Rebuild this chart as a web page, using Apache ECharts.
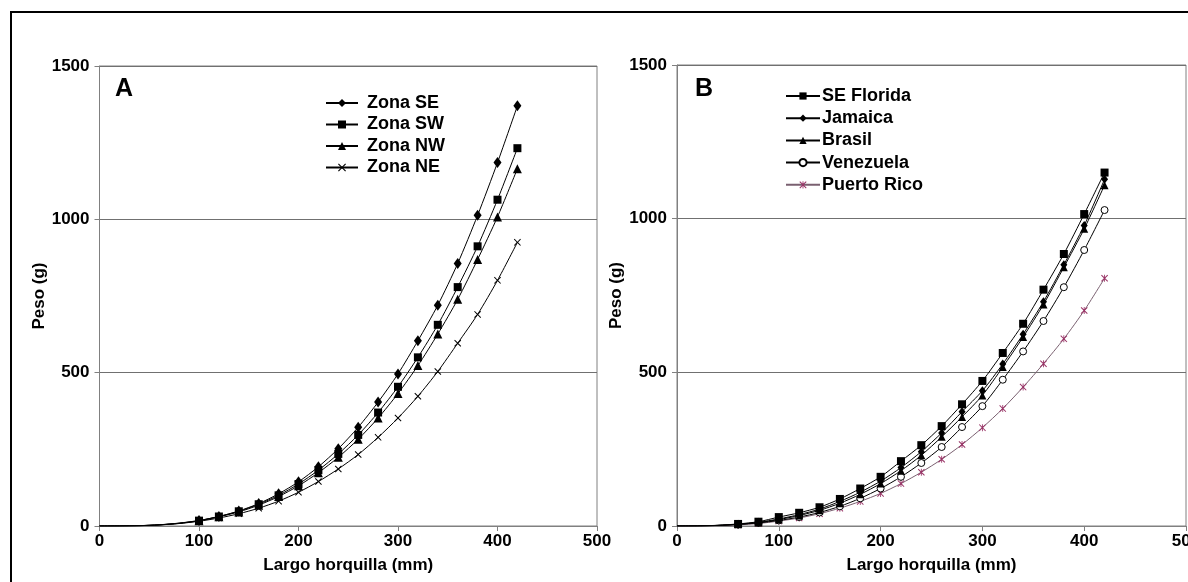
<!DOCTYPE html>
<html>
<head>
<meta charset="utf-8">
<script src="https://cdn.jsdelivr.net/npm/echarts@6/dist/echarts.min.js"></script>
<style>
html,body{margin:0;padding:0;background:#fff;}
#c{width:1188px;height:582px;}
</style>
</head>
<body>
<div id="c"></div>
<script>
// ---- data ----
const xVals = [0,20,40,60,80,100,120,140,160,180,200,220,240,260,280,300,320,340,360,380,400,420];
const xTicks = [0,100,200,300,400,500];
const yTicks = [0,500,1000,1500];

// Panel A (zones)
const namesA = ['Zona SE','Zona SW','Zona NW','Zona NE'];
const zonaSE = [0,0.2,1.2,4,9.5,18,31,49,73,105,144,193,252,322,404,496,604,720,856,1013,1185,1370];
const zonaSW = [0,0.2,1.1,3.8,9,17.5,31,48,71,100,137,182,235,297,370,454,550,656,779,912,1064,1232];
const zonaNW = [0,0.2,1.1,3.6,8.5,17,30,46,68,96,131,174,224,283,352,432,523,626,739,869,1008,1165];
const zonaNE = [0,0.2,1,3.4,8,15.5,26,40,58,81,110,145,186,233,289,352,423,504,596,690,801,925];

// Panel B (regions)
const namesB = ['SE Florida','Jamaica','Brasil','Venezuela','Puerto Rico'];
const seFlorida = [0,0.4,2.3,6.7,14,29,43,61,88,122,160,211,263,325,396,472,563,658,769,885,1015,1150];
const jamaica   = [0,0.3,2,6,12,23,37,55,80,110,146,190,242,303,372,440,527,624,730,850,978,1128];
const brasil    = [0,0.3,1.9,5.5,11,21,34,51,74,103,138,180,230,290,355,425,517,615,721,842,967,1109];
const venezuela = [0,0.3,1.8,5,10,18,29,44,64,90,122,160,205,257,322,390,476,568,667,777,898,1028];
const puertoRico= [0,0.2,1,3.5,8,16,26,40,58,80,106,138,175,217,265,320,382,452,528,609,701,806];

// ---- styles ----
const FONT = '"Liberation Sans", Arial, sans-serif';
const X_PATH = 'path://M0,1L1,0L5,4L9,0L10,1L6,5L10,9L9,10L5,6L1,10L0,9L4,5Z';
const STAR_PATH = 'path://M0,1L1,0L5,4L9,0L10,1L6,5L10,9L9,10L5,6L1,10L0,9L4,5ZM4.4,0L5.6,0L5.6,10L4.4,10Z';

function mkData(vals, startIdx){
  return vals.map((v,i)=> i<startIdx ? {value:[xVals[i], v], symbol:'none'} : [xVals[i], v]);
}

function mkSeries(name, vals, idx, symbol, size, startIdx, opts){
  opts = opts || {};
  return {
    type:'line', name, xAxisIndex:idx, yAxisIndex:idx,
    data: mkData(vals, startIdx),
    symbol, symbolSize:size, showAllSymbol:true,
    smooth:0.25,
    lineStyle:{color:opts.line||'#000', width:1},
    itemStyle:{color:opts.fill||'#000', borderColor:opts.border||opts.fill||'#000', borderWidth:opts.bw||0},
    emphasis:{disabled:true},
    animation:false,
    z: opts.z || 2
  };
}

function xAxis(idx){
  return {
    type:'value', gridIndex:idx, min:0, max:500, interval:100,
    name:'Largo horquilla (mm)', nameLocation:'middle', nameGap:31,
    nameTextStyle:{fontFamily:FONT, fontSize:17, fontWeight:'bold', color:'#000'},
    axisLine:{show:true, lineStyle:{color:'#808080', width:1}},
    axisTick:{show:true, length:5, lineStyle:{color:'#808080'}},
    axisLabel:{fontFamily:FONT, fontSize:17, fontWeight:'bold', color:'#000', margin:7,
      formatter:(v)=>String(v)},
    splitLine:{show:false}
  };
}
function yAxis(idx){
  return {
    type:'value', gridIndex:idx, min:0, max:1500, interval:500,
    name:'Peso (g)', nameLocation:'middle', nameGap:50, nameRotate:90,
    nameTextStyle:{fontFamily:FONT, fontSize:17, fontWeight:'bold', color:'#000'},
    axisLine:{show:true, lineStyle:{color:'#808080', width:1}},
    axisTick:{show:true, length:5, lineStyle:{color:'#808080'}},
    axisLabel:{fontFamily:FONT, fontSize:17, fontWeight:'bold', color:'#000', margin:10,
      formatter:(v)=>String(v)},
    splitLine:{show:true, lineStyle:{color:'#707070', width:1}}
  };
}

const chart = echarts.init(document.getElementById('c'), null, {renderer:'canvas'});
chart.setOption({
  backgroundColor:'#fff',
  animation:false,
  grid:[
    {left:99.5, top:66, width:497.5, height:460, show:true, borderColor:'#808080', borderWidth:1,
     backgroundColor:'transparent', containLabel:false, outerBoundsMode:'none'},
    {left:677, top:65, width:509, height:461, show:true, borderColor:'#808080', borderWidth:1,
     backgroundColor:'transparent', containLabel:false, outerBoundsMode:'none'}
  ],
  xAxis:[xAxis(0), xAxis(1)],
  yAxis:[yAxis(0), yAxis(1)],
  legend:[
    {
      data:namesA, orient:'vertical', left:325, top:94, padding:0, itemWidth:32, itemHeight:10, itemGap:3.5,
      textStyle:{fontFamily:FONT, fontSize:18, fontWeight:'bold', color:'#000', padding:[0,0,0,4]},
      selectedMode:false
    },
    {
      data:namesB, orient:'vertical', left:785, top:87, padding:0, itemWidth:34, itemHeight:9, itemGap:4.2,
      textStyle:{fontFamily:FONT, fontSize:18, fontWeight:'bold', color:'#000', padding:[0,0,0,-3]},
      selectedMode:false
    }
  ],
  graphic:[
    {type:'rect', shape:{x:11, y:12, width:1300, height:700}, style:{fill:'none', stroke:'#000', lineWidth:2}, silent:true},
    {type:'text', left:115, top:77, style:{text:'A', font:'bold 25px '+FONT, fill:'#000'}},
    {type:'text', left:695, top:77, style:{text:'B', font:'bold 25px '+FONT, fill:'#000'}}
  ],
  series:[
    mkSeries('Zona SE', zonaSE, 0, 'diamond', [8,11], 5, {z:5}),
    mkSeries('Zona SW', zonaSW, 0, 'rect', 8, 5, {z:4}),
    mkSeries('Zona NW', zonaNW, 0, 'triangle', 9, 5, {z:3}),
    mkSeries('Zona NE', zonaNE, 0, X_PATH, 7, 5, {z:2}),
    mkSeries('SE Florida', seFlorida, 1, 'rect', 8, 3, {z:6}),
    mkSeries('Jamaica', jamaica, 1, 'diamond', [7,9], 3, {z:5}),
    mkSeries('Brasil', brasil, 1, 'triangle', 8, 3, {z:4}),
    mkSeries('Venezuela', venezuela, 1, 'circle', 7, 3, {fill:'#fff', border:'#000', bw:1, z:3}),
    mkSeries('Puerto Rico', puertoRico, 1, STAR_PATH, 7, 3, {line:'#7a6070', fill:'#993366', z:2})
  ]
});
</script>
</body>
</html>
